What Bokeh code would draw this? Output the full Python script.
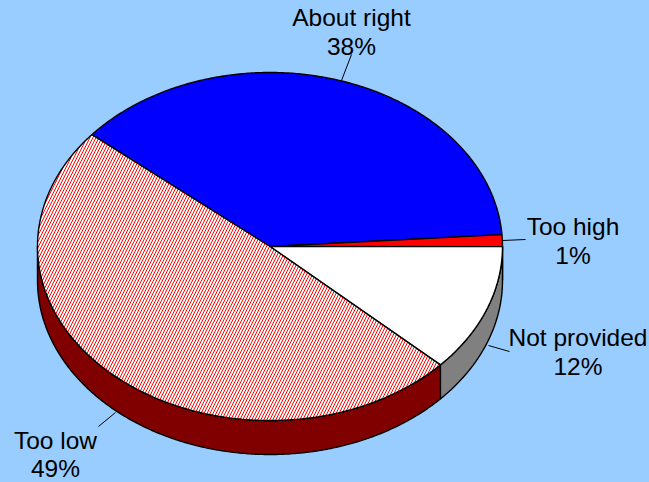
import numpy as np
from bokeh.plotting import figure
from bokeh.embed import file_html
from bokeh.resources import INLINE
from bokeh.core.properties import value

categories = ["About right", "Too high", "Not provided", "Too low"]
shares = [37.8, 1.1, 11.9, 49.2]
percent_labels = ["38%", "1%", "12%", "49%"]
top_colors = ["#0000FF", "#FF0000", "#FFFFFF", "#FFFFFF"]
side_colors = ["#000080", "#800000", "#808080", "#800000"]

BG = "#99CCFF"
W, H = 649, 482
cx, cy, rx, ry, depth = 269.5, 246.0, 232.5, 174.0, 34.0
start_angle = 140.0

label_x = [351, 572.5, 577.5, 55]
label_y1 = [17, 226, 337, 440]
label_y2 = [46, 255, 366, 468]
leaders = [((341, 80), (351, 54)), ((502, 240), (525, 239)),
           ((488, 345), (509, 351)), ((115, 412), (98, 426))]

p = figure(width=W, height=H, x_range=(0, W), y_range=(H, 0), output_backend="svg",
           toolbar_location=None, min_border=0, background_fill_color=BG,
           border_fill_color=BG, outline_line_color=None)
p.axis.visible = False
p.grid.visible = False


def arc(a0, a1, dy=0.0):
    t = np.radians(np.linspace(a0, a1, max(2, int(abs(a1 - a0) * 2) + 1)))
    return cx + rx * np.cos(t), cy + dy - ry * np.sin(t)


edges = start_angle - np.concatenate([[0], np.cumsum(shares)]) * 3.6

# side wall: only the lower, visible half of the rim (angles 0 .. -180)
for i in range(len(shares)):
    a0, a1 = edges[i], edges[i + 1]
    a0c, a1c = min(a0, 0.0), max(a1, -180.0)
    if a0c <= a1c:
        continue
    x1, y1 = arc(a0c, a1c)
    x2, y2 = arc(a1c, a0c, depth)
    p.patch(np.r_[x1, x2], np.r_[y1, y2], fill_color=side_colors[i],
            line_color="black", line_width=1.4)

# top face
for i in range(len(shares)):
    x, y = arc(edges[i], edges[i + 1])
    xs, ys = np.r_[cx, x], np.r_[cy, y]
    kw = {}
    if categories[i] == "Too low":
        kw = dict(hatch_pattern="right_diagonal_line", hatch_color="#FF0000",
                  hatch_scale=6, hatch_weight=1)
    p.patch(xs, ys, fill_color=top_colors[i], line_color="black", line_width=1.4, **kw)

for a, b in leaders:
    p.line([a[0], b[0]], [a[1], b[1]], line_color="black", line_width=1)

font = value("Liberation Sans")
for ys, txt in ((label_y1, categories), (label_y2, percent_labels)):
    p.text(label_x, ys, text=txt, text_font=font, text_font_size="24.5px",
           text_color="black", text_align="center", text_baseline="alphabetic")

html = file_html(p, INLINE)
html = html.replace("<head>", "<head><style>html,body{margin:0;padding:0;background:%s;overflow:hidden}</style>" % BG, 1)
open("out.html", "w").write(html)
